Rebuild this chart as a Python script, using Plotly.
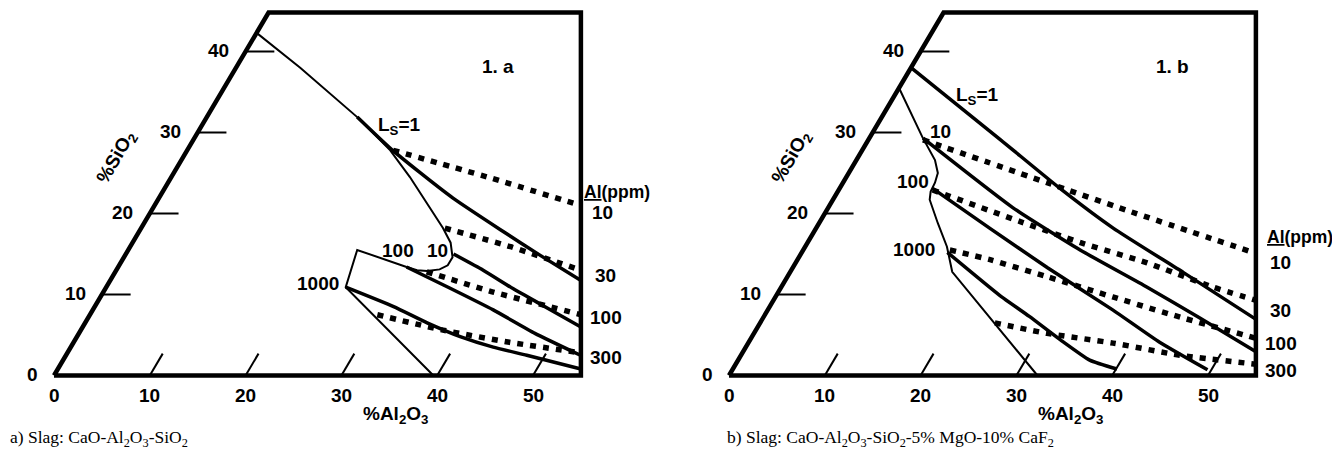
import plotly.graph_objects as go

# ---------------- axes / frame definitions ----------------
AL_MAX = 55.0          # right edge of the diagram (%Al2O3 at SiO2 = 0)
SI_MAX = 44.8          # top edge of the diagram (%SiO2)
AL_TICKS = [0, 10, 20, 30, 40, 50]
SI_TICKS = [0, 10, 20, 30, 40]
AL_PPM_LABELS = ["10", "30", "100", "300"]

# ---------------- panel a : CaO-Al2O3-SiO2 ----------------
# compositions as (%Al2O3, %SiO2)
a_liq_al = [0.0, 6.7, 15.7, 21.2, 24.9, 29.2, 31.5, 33.2, 34.3, 34.3, 33.7, 32.5, 31.4, 30.1, 23.9, 25.0, 39.6]
a_liq_si = [42.3, 38.0, 31.9, 27.8, 24.5, 20.4, 18.2, 16.4, 14.6, 13.6, 13.1, 12.9, 13.0, 13.4, 15.5, 10.9, 0.0]
a_ls1_al = [15.7, 21.0, 25.6, 30.7, 37.6, 43.4, 49.2]
a_ls1_si = [31.9, 28.1, 25.1, 21.9, 18.0, 14.8, 11.7]
a_ls10_al = [34.2, 38.3, 42.6, 47.0, 52.0]
a_ls10_si = [15.0, 13.0, 10.7, 8.5, 6.0]
a_ls100_al = [30.1, 35.9, 41.8, 47.6, 53.7]
a_ls100_si = [13.4, 10.8, 8.1, 5.2, 2.5]
a_ls1000_al = [25.0, 31.2, 35.7, 40.0, 44.1, 48.1, 54.6]
a_ls1000_si = [10.9, 8.5, 6.5, 4.8, 3.5, 2.5, 0.8]
a_al10_al = [21.5, 33.0, 44.5]
a_al10_si = [27.8, 24.5, 21.0]
a_al30_al = [31.7, 39.7, 48.5]
a_al30_si = [18.2, 15.9, 13.0]
a_al100_al = [32.5, 40.7, 51.3]
a_al100_si = [12.8, 10.3, 7.5]
a_al300_al = [30.0, 37.8, 45.5, 53.6]
a_al300_si = [7.5, 5.6, 4.1, 2.8]

# ---------------- panel b : CaO-Al2O3-SiO2-5% MgO-10% CaF2 ----------------
b_liq_al = [0.0, 5.5, 8.2, 9.3, 9.6, 9.7, 10.1, 12.4, 14.8, 16.9, 32.2]
b_liq_si = [35.5, 29.4, 26.6, 25.0, 23.8, 22.7, 21.7, 18.8, 15.9, 12.8, 0.0]
b_ls1_al = [0.0, 13.8, 23.0, 31.0, 41.1, 51.6]
b_ls1_si = [38.0, 29.1, 23.1, 18.2, 12.7, 6.9]
b_ls10_al = [5.6, 19.3, 28.9, 38.2, 45.6, 53.6]
b_ls10_si = [29.3, 20.7, 15.5, 10.9, 7.1, 2.9]
b_ls100_al = [9.7, 18.1, 26.6, 36.0, 42.9, 49.6]
b_ls100_si = [23.1, 18.2, 13.3, 8.1, 4.1, 0.7]
b_ls1000_al = [15.2, 23.3, 27.7, 32.4, 36.7, 40.1]
b_ls1000_si = [15.2, 9.9, 7.3, 4.4, 1.9, 0.8]
b_al10_al = [5.7, 21.3, 31.3, 47.4]
b_al10_si = [29.1, 23.8, 20.4, 15.1]
b_al30_al = [9.8, 20.9, 28.5, 36.7, 45.1, 50.3]
b_al30_si = [22.9, 19.0, 16.4, 13.9, 10.9, 9.3]
b_al100_al = [15.3, 20.1, 27.1, 35.2, 43.5, 52.7]
b_al100_si = [15.5, 14.3, 12.2, 9.7, 7.2, 4.6]
b_al300_al = [24.5, 30.6, 38.1, 45.8, 54.3]
b_al300_si = [6.5, 5.2, 4.0, 2.5, 1.4]


def cart(al, si):
    """ternary composition -> horizontal plot coordinate (lines of constant Al2O3 slant at 60 deg)"""
    return [a + s / 2.0 for a, s in zip(al, si)]


FONT = "Liberation Sans, Arial, Helvetica, sans-serif"
SERIF = "Liberation Serif, Times New Roman, serif"
BLACK = "#000000"

# page body has an 8 px margin: the figure is drawn 8 px in from the top-left
PAGE_OFF = 8
FIG_W, FIG_H = 1340 - PAGE_OFF, 455 - PAGE_OFF

panels = [
    dict(xa="x", ya="y", tag="1. a",
         liq=(a_liq_al, a_liq_si),
         ls=[(a_ls1_al, a_ls1_si), (a_ls10_al, a_ls10_si), (a_ls100_al, a_ls100_si), (a_ls1000_al, a_ls1000_si)],
         al=[(a_al10_al, a_al10_si), (a_al30_al, a_al30_si), (a_al100_al, a_al100_si), (a_al300_al, a_al300_si)],
         ls_lab=[("L<sub>S</sub>=1", 20.7, 30.8), ("10", 32.3, 15.4), ("100", 28.2, 15.4), ("1000", 21.9, 11.3)],
         ppm_y=[22.6, 20.1, 12.4, 7.1, 2.2],
         ppm_x=[55.1, 57.3, 57.6, 57.6, 57.6],
         caption="a) Slag: CaO-Al<sub>2</sub>O<sub>3</sub>-SiO<sub>2</sub>", cap_x=PAGE_OFF),
    dict(xa="x2", ya="y2", tag="1. b",
         liq=(b_liq_al, b_liq_si),
         ls=[(b_ls1_al, b_ls1_si), (b_ls10_al, b_ls10_si), (b_ls100_al, b_ls100_si), (b_ls1000_al, b_ls1000_si)],
         al=[(b_al10_al, b_al10_si), (b_al30_al, b_al30_si), (b_al100_al, b_al100_si), (b_al300_al, b_al300_si)],
         ls_lab=[("L<sub>S</sub>=1", 8.7, 34.5), ("10", 7.0, 30.1), ("100", 7.2, 24.0), ("1000", 11.6, 15.5)],
         ppm_y=[17.1, 14.0, 8.0, 4.0, 0.6],
         ppm_x=[55.9, 57.6, 57.6, 57.6, 57.6],
         caption="b) Slag: CaO-Al<sub>2</sub>O<sub>3</sub>-SiO<sub>2</sub>-5% MgO-10% CaF<sub>2</sub>", cap_x=725),
]

fig = go.Figure()
annotations = []

for p in panels:
    xa, ya = p["xa"], p["ya"]
    # frame
    fr_al = [0, 0, AL_MAX - SI_MAX / 2.0, AL_MAX, 0]
    fr_si = [0, SI_MAX, SI_MAX, 0, 0]
    fig.add_trace(go.Scatter(x=cart(fr_al, fr_si), y=fr_si, mode="lines", xaxis=xa, yaxis=ya,
                             line=dict(color=BLACK, width=4.5), hoverinfo="skip"))
    # ticks
    tx, ty = [], []
    for s in SI_TICKS[1:]:
        tx += cart([0, 3], [s, s]) + [None]
        ty += [s, s, None]
    for a in AL_TICKS[1:]:
        tx += cart([a, a], [0, 2.7]) + [None]
        ty += [0, 2.7, None]
    fig.add_trace(go.Scatter(x=tx, y=ty, mode="lines", xaxis=xa, yaxis=ya,
                             line=dict(color=BLACK, width=2), hoverinfo="skip"))
    # liquidus / phase boundary (thin)
    la, lsi = p["liq"]
    fig.add_trace(go.Scatter(x=cart(la, lsi), y=lsi, mode="lines", xaxis=xa, yaxis=ya,
                             line=dict(color=BLACK, width=2), hoverinfo="skip"))
    # Al (ppm) iso-lines (dotted)
    for al, si in p["al"]:
        fig.add_trace(go.Scatter(x=cart(al, si), y=si, mode="lines", xaxis=xa, yaxis=ya,
                                 line=dict(color=BLACK, width=5.5, dash="6px,7px", shape="spline", smoothing=0.5),
                                 hoverinfo="skip"))
    # Ls iso-lines (thick)
    for al, si in p["ls"]:
        fig.add_trace(go.Scatter(x=cart(al, si), y=si, mode="lines", xaxis=xa, yaxis=ya,
                                 line=dict(color=BLACK, width=3.5, shape="spline", smoothing=0.5),
                                 hoverinfo="skip"))

    bold = dict(family=FONT, size=19, color=BLACK, weight="bold")
    bold_s = dict(family=FONT, size=17.5, color=BLACK, weight="bold")
    # tick labels
    for a in AL_TICKS:
        annotations.append(dict(x=a, y=-2.45, xref=xa, yref=ya, text=str(a), showarrow=False,
                                font=bold, xanchor="center", yanchor="middle"))
    for s in SI_TICKS:
        annotations.append(dict(x=s / 2.0 - 1.5, y=s + 0.1, xref=xa, yref=ya, text=str(s), showarrow=False,
                                font=bold, xanchor="right", yanchor="middle"))
    # axis titles
    annotations.append(dict(x=35.7, y=-4.9, xref=xa, yref=ya, text="%Al<sub>2</sub>O<sub>3</sub>",
                            showarrow=False, font=bold, xanchor="center", yanchor="middle"))
    annotations.append(dict(x=6.5, y=26.9, xref=xa, yref=ya, text="%SiO<sub>2</sub>", textangle=-60,
                            showarrow=False, font=bold, xanchor="center", yanchor="middle"))
    # Ls labels
    for txt, a, s in p["ls_lab"]:
        annotations.append(dict(x=a + s / 2.0, y=s, xref=xa, yref=ya, text=txt, showarrow=False,
                                font=bold, xanchor="center", yanchor="middle"))
    # panel tag
    annotations.append(dict(x=27.2 + 38.2 / 2.0, y=38.2, xref=xa, yref=ya, text=p["tag"], showarrow=False,
                            font=bold, xanchor="center", yanchor="middle"))
    # Al(ppm) labels on the right
    annotations.append(dict(x=p["ppm_x"][0], y=p["ppm_y"][0], xref=xa, yref=ya, text="<u>Al</u>(ppm)",
                            showarrow=False, font=bold_s, xanchor="left", yanchor="middle"))
    for txt, xv, yv in zip(AL_PPM_LABELS, p["ppm_x"][1:], p["ppm_y"][1:]):
        annotations.append(dict(x=xv, y=yv, xref=xa, yref=ya, text=txt, showarrow=False,
                                font=bold, xanchor="center", yanchor="middle"))
    # caption
    annotations.append(dict(x=(p["cap_x"] - PAGE_OFF) / FIG_W, y=1 - (438 - PAGE_OFF) / FIG_H,
                            xref="paper", yref="paper", text=p["caption"], showarrow=False,
                            font=dict(family=SERIF, size=17.5, color=BLACK),
                            xanchor="left", yanchor="middle"))

KX, KY = 9.58, 8.1           # pixels per % (horizontal / vertical)
OX_A, OX_B, OY = 54, 729, 375.5   # page-pixel position of the 0/0 corner of each panel
half = FIG_W / 2.0
ax_common = dict(visible=False, showgrid=False, zeroline=False, fixedrange=True)
yr = [(OY - (FIG_H + PAGE_OFF)) / KY, (OY - PAGE_OFF) / KY]
fig.update_layout(
    width=FIG_W, height=FIG_H,
    margin=dict(l=0, r=0, t=0, b=0),
    paper_bgcolor="white", plot_bgcolor="white",
    showlegend=False,
    xaxis=dict(domain=[0, 0.5], range=[(PAGE_OFF - OX_A) / KX, (PAGE_OFF + half - OX_A) / KX],
               anchor="y", **ax_common),
    yaxis=dict(domain=[0, 1], range=yr, anchor="x", **ax_common),
    xaxis2=dict(domain=[0.5, 1], range=[(PAGE_OFF + half - OX_B) / KX, (PAGE_OFF + FIG_W - OX_B) / KX],
                anchor="y2", **ax_common),
    yaxis2=dict(domain=[0, 1], range=yr, anchor="x2", **ax_common),
    annotations=annotations,
)

fig.write_html("out.html")
